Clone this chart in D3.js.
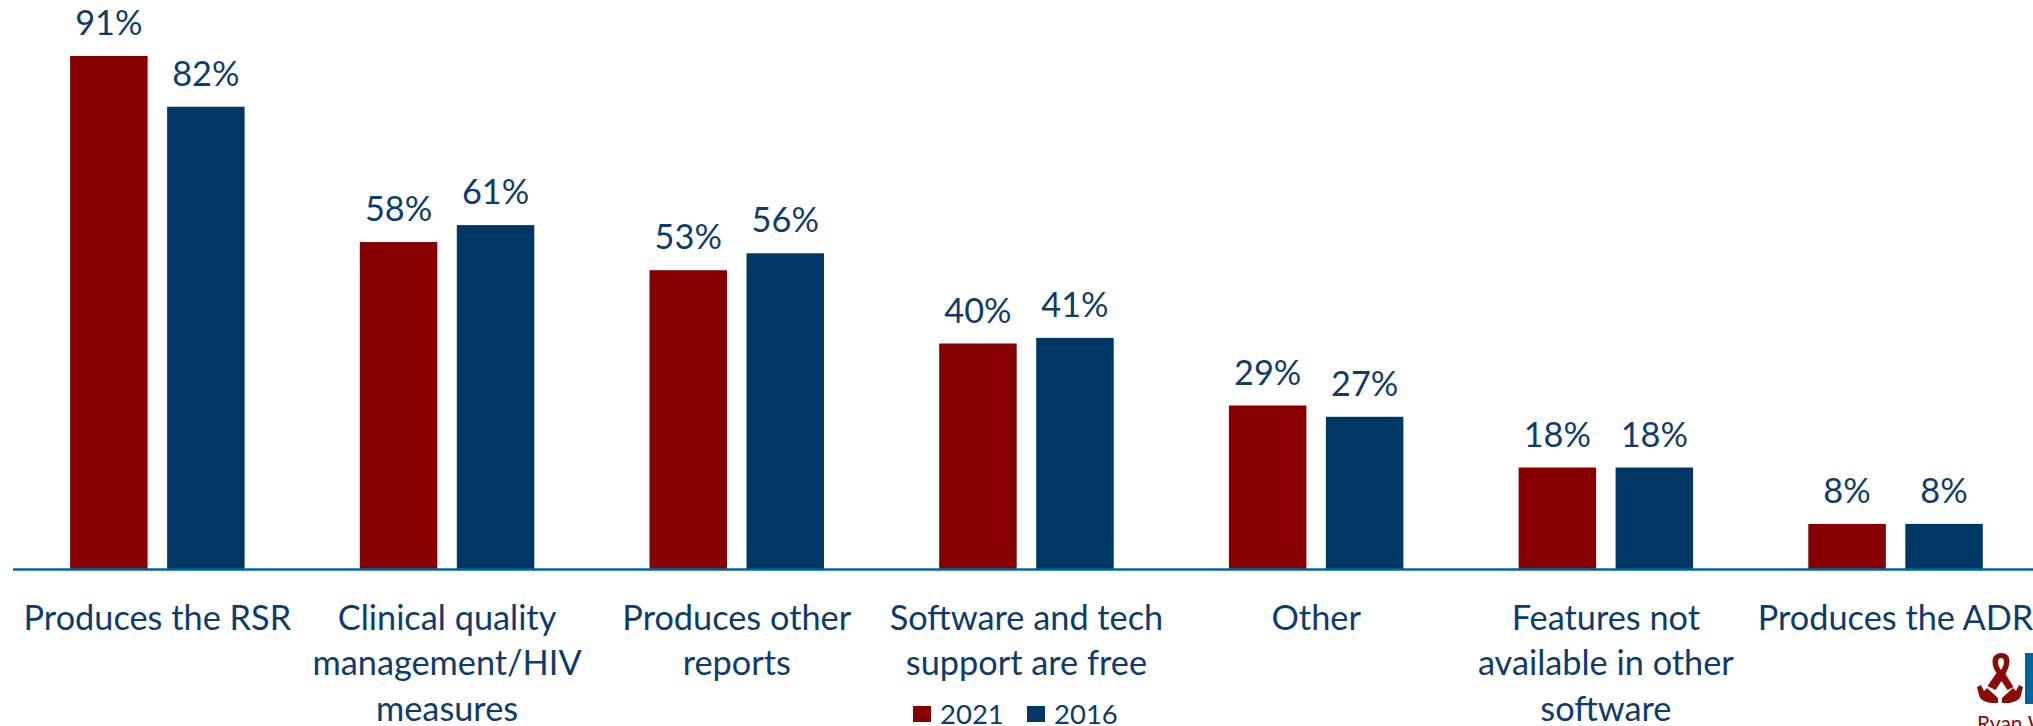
<!DOCTYPE html>
<html><head><meta charset="utf-8">
<style>html,body{margin:0;padding:0;background:#fff;overflow:hidden}svg{display:block}text{font-family:Lato,"Open Sans",sans-serif;fill:#0f3b6c}</style>
<script src="https://cdn.jsdelivr.net/npm/d3@7/dist/d3.min.js"></script>
</head><body><svg id="c" width="2033" height="726"></svg>
<script>
const categories=["Produces the RSR","Clinical quality|management/HIV|measures","Produces other|reports","Software and tech|support are free","Other","Features not|available in other|software","Produces the ADR"];
const years=["2021","2016"];
const values2021=[91,58,53,40,29,18,8];
const values2016=[82,61,56,41,27,18,8];
const W=2033,H=726,base=569;
const colors={"2021":"#860000","2016":"#003764"};
const svg=d3.select("#c");
const x=d3.scaleBand().domain(categories).range([12.5,12.5+7*289.7]).paddingInner(0).paddingOuter(0);
const gapIn=19.5,bw=77.5;
const x1=d3.scaleBand().domain(years).range([x.bandwidth()/2-(bw+gapIn/2),x.bandwidth()/2+(bw+gapIn/2)]).paddingInner(gapIn/(bw+gapIn)).paddingOuter(0);
const y=d3.scaleLinear().domain([0,91]).range([base,56]);
const rows=categories.map((c,i)=>({c,v:{"2021":values2021[i],"2016":values2016[i]}}));
const g=svg.selectAll("g.cat").data(rows).join("g").attr("class","cat").attr("transform",d=>`translate(${x(d.c)},0)`);
years.forEach(yr=>{
 g.append("rect").attr("x",x1(yr)).attr("y",d=>y(d.v[yr])).attr("width",x1.bandwidth()).attr("height",d=>base-y(d.v[yr])).attr("fill",colors[yr]);
 g.append("text").attr("x",x1(yr)+x1.bandwidth()/2).attr("y",d=>y(d.v[yr])-21).attr("text-anchor","middle").attr("font-size",34.3).text(d=>d.v[yr]+"%");
});
const ax=svg.append("g").attr("transform",`translate(0,${base})`).call(d3.axisBottom(x).tickSize(0).tickPadding(0));
ax.select(".domain").attr("stroke","#00669a").attr("stroke-width",2.5);
ax.selectAll(".tick text").each(function(d){
 const t=d3.select(this).text(null).attr("y",0).attr("dy",null).attr("text-anchor","middle").attr("font-size",34.3).attr("font-family","Lato").style("fill","#0f3b6c");
 d.split("|").forEach((l,i)=>t.append("tspan").attr("x",0).attr("y",60.5+i*45.5).text(l));
});
// legend
const lx=[913,1027];
years.forEach((yr,i)=>{
 svg.append("rect").attr("x",lx[i]).attr("y",706).attr("width",18).attr("height",16).attr("fill",colors[yr]);
 svg.append("text").attr("x",lx[i]+27).attr("y",724).attr("font-size",27.5).text(yr);
});
// logo
const logo=svg.append("g").attr("fill","#8b0a0a");
logo.append("path").attr("fill-rule","evenodd").attr("d","M2001.5 653c5 0 8 3 8 8 0 5-2 9-4 13l8 13-6 3-6-9-6 9-8-4 9-13c-3-4-4-8-4-12 0-5 4-8 9-8zM2001 658c-2 0-3 2-3 4 0 3 1 5 3 8 2-3 3-6 3-8 0-2-1-4-3-4z");
logo.append("path").attr("d","M1977 687l4-2 3 6 3-3 11 10v5h-7c-6-1-11-3-12-8zM2023 687l-4-2-3 6-3-3-11 10v5h7c6-1 11-3 12-8z");
logo.append("rect").attr("x",2025).attr("y",653).attr("width",8).attr("height",51).attr("fill","#00669a");
logo.append("text").attr("x",1977).attr("y",731).attr("font-size",21).attr("font-family","Roboto").style("fill","#8b0a0a").text("Ryan White");
</script></body></html>
